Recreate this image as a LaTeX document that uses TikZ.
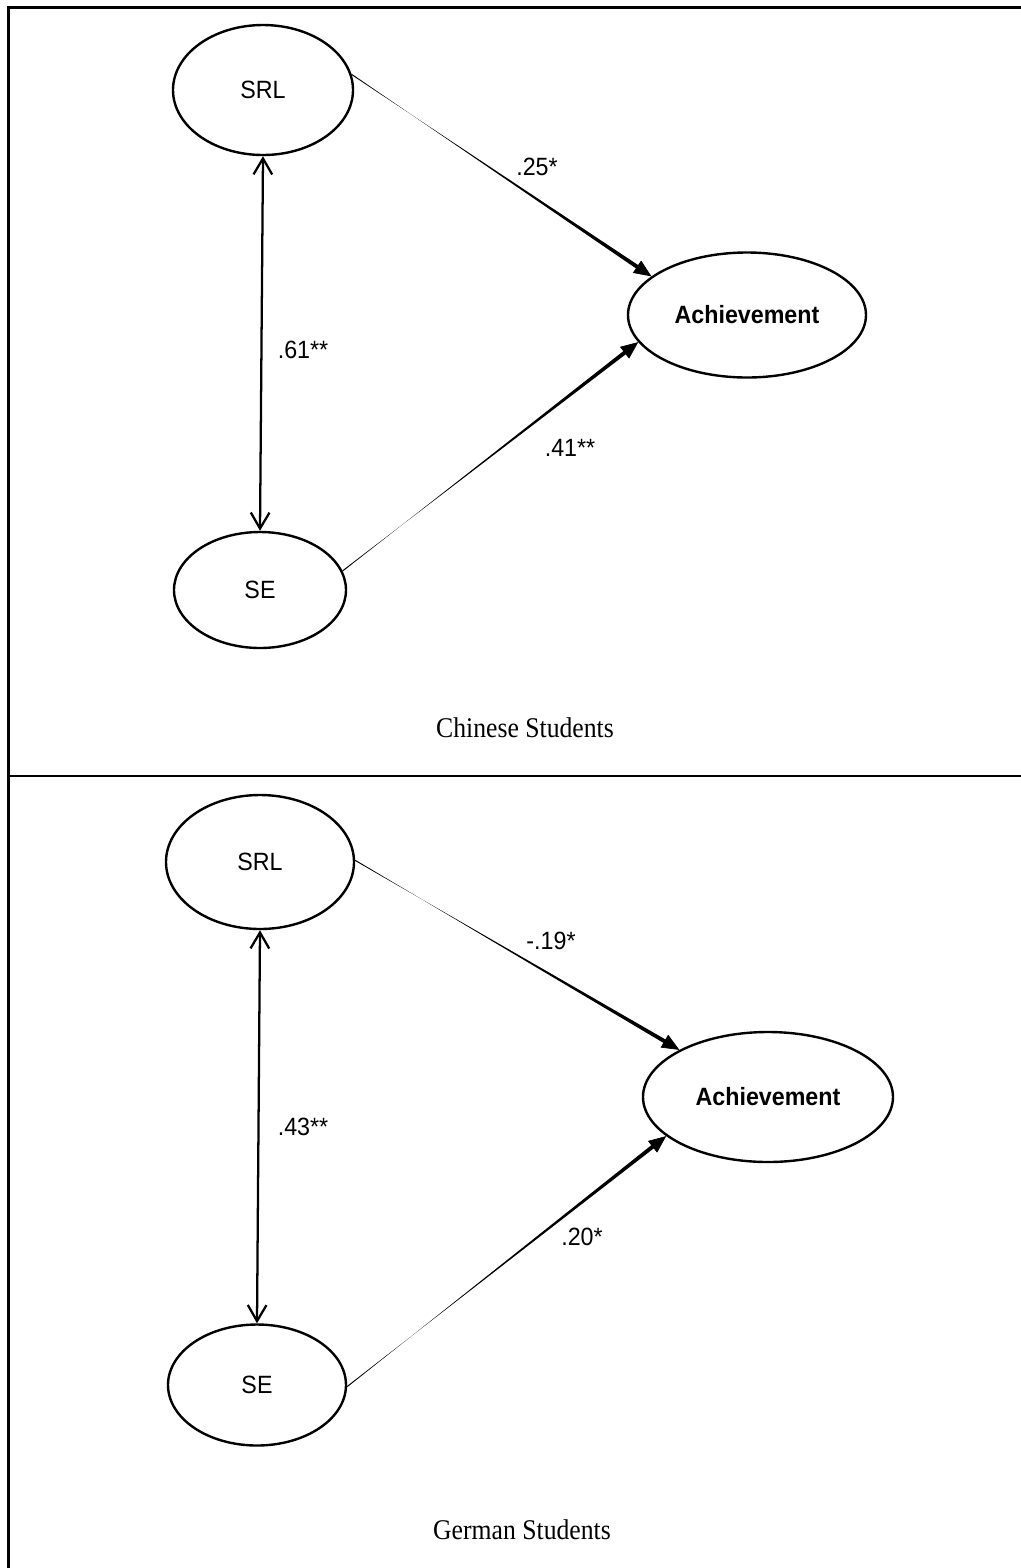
\documentclass[tikz,border=0pt]{standalone}
\usepackage{fontspec}
\newfontfamily\arialf[FakeStretch=0.93]{Liberation Sans}
\newfontfamily\timesf[FakeStretch=0.9]{Liberation Serif}
\usetikzlibrary{shapes.geometric,arrows.meta,calc}
\newcommand\taperarrow[2]{%
  \fill ($(#1)!0.4pt!90:(#2)$) -- ($($(#2)!11pt!(#1)$)!1.5pt!-90:(#2)$) --
        ($($(#2)!11pt!(#1)$)!1.5pt!90:(#2)$) -- ($(#1)!0.4pt!-90:(#2)$) -- cycle;
  \draw[line width=0.5pt,-{Triangle[length=13pt,width=11pt]}] ($(#2)!12pt!(#1)$) -- (#2);
}
\begin{document}
\begin{tikzpicture}[x=0.75pt,y=-0.75pt,
  latent/.style={ellipse,draw,line width=1.8pt,inner sep=0pt,
    font=\arialf\fontsize{18.75}{22}\selectfont},
  lbl/.style={inner sep=0pt,font=\arialf\fontsize{18.75}{22}\selectfont},
  captxt/.style={inner sep=0pt,font=\timesf\fontsize{21.4}{25}\selectfont},
  frameline/.style={line width=1.6pt},
  corr/.style={line width=1.7pt,
    {Straight Barb[length=12pt,width=14pt]}-{Straight Barb[length=12pt,width=14pt]}}]
\useasboundingbox (0,0) rectangle (1021,1568);
% frame
\draw[frameline] (8.5,1568) -- (8.5,7.5) -- (1021,7.5);
\draw[frameline] (8.5,776) -- (1021,776);

% ---------- top panel ----------
\node[latent,minimum width=135pt,minimum height=97.5pt] (srl1) at (263,90) {SRL};
\node[latent,minimum width=129pt,minimum height=87pt] (se1) at (260,590) {SE};
\node[latent,minimum width=178.5pt,minimum height=93.75pt] (ach1) at (747,315) {\bfseries Achievement};
\path (srl1.10) coordinate (a1) (ach1.158) coordinate (b1);
\path (se1.13) coordinate (c1) (ach1.194) coordinate (d1);
\taperarrow{a1}{b1}
\taperarrow{c1}{d1}
\draw[corr] (srl1.south) -- (se1.north);
\node[lbl] (l25) at (537,167) {.25*};
\node[lbl] (l61) at (303,350) {.61**};
\node[lbl] (l41) at (570,448) {.41**};
\node[captxt] (capc) at (525,728) {Chinese Students};

% ---------- bottom panel ----------
\node[latent,minimum width=141pt,minimum height=100.5pt] (srl2) at (260,862) {SRL};
\node[latent,minimum width=133.5pt,minimum height=90.75pt] (se2) at (257,1385) {SE};
\node[latent,minimum width=187.5pt,minimum height=97.5pt] (ach2) at (768,1097) {\bfseries Achievement};
\path (srl2.1) coordinate (a2) (ach2.152) coordinate (b2);
\path (se2.359) coordinate (c2) (ach2.201) coordinate (d2);
\taperarrow{a2}{b2}
\taperarrow{c2}{d2}
\draw[corr] (srl2.south) -- (se2.north);
\node[lbl] (l19) at (551,941) {-.19*};
\node[lbl] (l43) at (303,1127) {.43**};
\node[lbl] (l20) at (582,1237) {.20*};
\node[captxt] (capg) at (522,1530) {German Students};
\end{tikzpicture}
\end{document}
